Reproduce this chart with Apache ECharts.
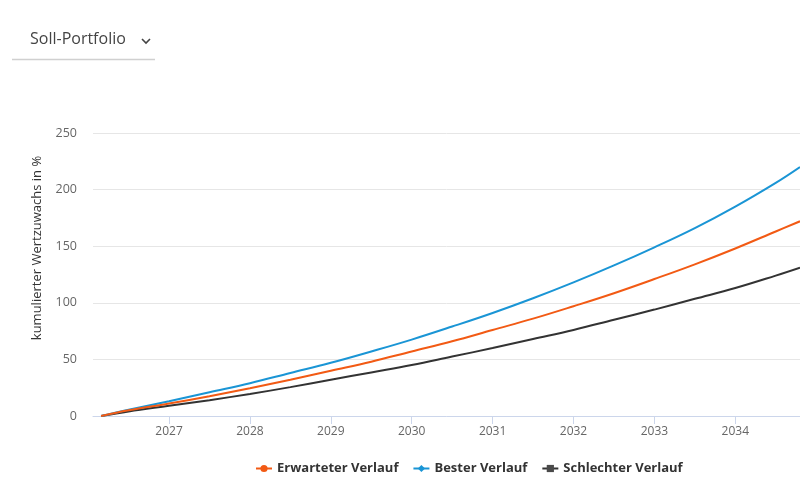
<!DOCTYPE html>
<html>
<head>
<meta charset="utf-8">
<script src="https://cdn.jsdelivr.net/npm/echarts@6/dist/echarts.min.js"></script>
<style>
html,body{margin:0;padding:0;background:#fff;}
#chart{width:800px;height:500px;}
</style>
</head>
<body>
<div id="chart"></div>
<script>
const years = [2026.16, 2026.5, 2027, 2027.5, 2028, 2028.5, 2029, 2029.5, 2030, 2030.5, 2031, 2031.5, 2032, 2032.5, 2033, 2033.5, 2034, 2034.5, 2034.8];
const expected = [0, 5, 11, 17.5, 24.5, 32, 40, 48, 57, 66, 76, 86, 97, 108.5, 121, 134, 148, 163, 172];
const best = [0, 5.5, 13, 21, 29, 38, 47, 57, 67.5, 79, 91, 104, 118, 133, 149, 166, 185, 206, 220];
const worst = [0, 4, 9, 14, 19.5, 25.5, 32, 38.5, 45, 52.5, 60, 68, 76, 85, 94, 103.5, 113, 124, 131];
const tickYears = [2027, 2028, 2029, 2030, 2031, 2032, 2033, 2034];
const seriesNames = ['Erwarteter Verlauf', 'Bester Verlauf', 'Schlechter Verlauf'];

const pair = arr => years.map((x, i) => [x, arr[i]]);
const font = '"Open Sans", "Noto Sans", sans-serif';

const chart = echarts.init(document.getElementById('chart'));
chart.setOption({
  animation: false,
  textStyle: { fontFamily: font },
  grid: { left: 93, right: 0, top: 133, bottom: 84, containLabel: false },
  xAxis: {
    type: 'value',
    min: 2026.06,
    max: 2034.8,
    axisLine: { show: true, lineStyle: { color: '#ccd6eb', width: 1 } },
    axisTick: { show: true, length: 8, lineStyle: { color: '#ccd6eb' }, customValues: tickYears },
    axisLabel: { customValues: tickYears, color: '#666', fontSize: 12, margin: 10, fontFamily: font, formatter: v => String(Math.round(v)) },
    splitLine: { show: false }
  },
  yAxis: {
    type: 'value',
    min: 0,
    max: 250,
    interval: 50,
    axisLine: { show: false },
    axisTick: { show: false },
    axisLabel: { color: '#666', fontSize: 12.5, margin: 16, fontFamily: font },
    splitLine: { lineStyle: { color: '#e6e6e6', width: 1 } }
  },
  legend: {
    bottom: 20,
    left: 250,
    itemWidth: 16,
    itemHeight: 9,
    itemGap: 14,
    textStyle: { color: '#333', fontSize: 13, fontWeight: 'bold', fontFamily: font },
    data: seriesNames
  },
  series: [
    { name: seriesNames[0], type: 'line', data: pair(expected), smooth: 0.4, symbol: 'circle', symbolSize: 8, showSymbol: false, lineStyle: { color: '#f25a14', width: 2 }, itemStyle: { color: '#f25a14' }, z: 3 },
    { name: seriesNames[1], type: 'line', data: pair(best), smooth: 0.4, symbol: 'diamond', symbolSize: 9, showSymbol: false, lineStyle: { color: '#1a95d5', width: 2 }, itemStyle: { color: '#1a95d5' }, z: 2 },
    { name: seriesNames[2], type: 'line', data: pair(worst), smooth: 0.4, symbol: 'rect', symbolSize: 8, showSymbol: false, lineStyle: { color: '#333333', width: 2 }, itemStyle: { color: '#4a4a4a' }, z: 1 }
  ],
  graphic: [
    { type: 'text', left: 30, top: 31, style: { text: 'Soll-Portfolio', fill: '#444', fontSize: 16, fontFamily: font } },
    { type: 'polyline', shape: { points: [[142, 39], [146, 43], [150, 39]] }, style: { stroke: '#444', lineWidth: 1.6, fill: null } },
    { type: 'line', shape: { x1: 12, y1: 59.5, x2: 155, y2: 59.5 }, style: { stroke: '#d0d0d0', lineWidth: 1.5 } },
    { type: 'text', x: 37, y: 248, rotation: Math.PI / 2, style: { text: 'kumulierter Wertzuwachs in %', fill: '#333', fontSize: 13, fontFamily: font, align: 'center', verticalAlign: 'middle' } }
  ]
});
</script>
</body>
</html>
